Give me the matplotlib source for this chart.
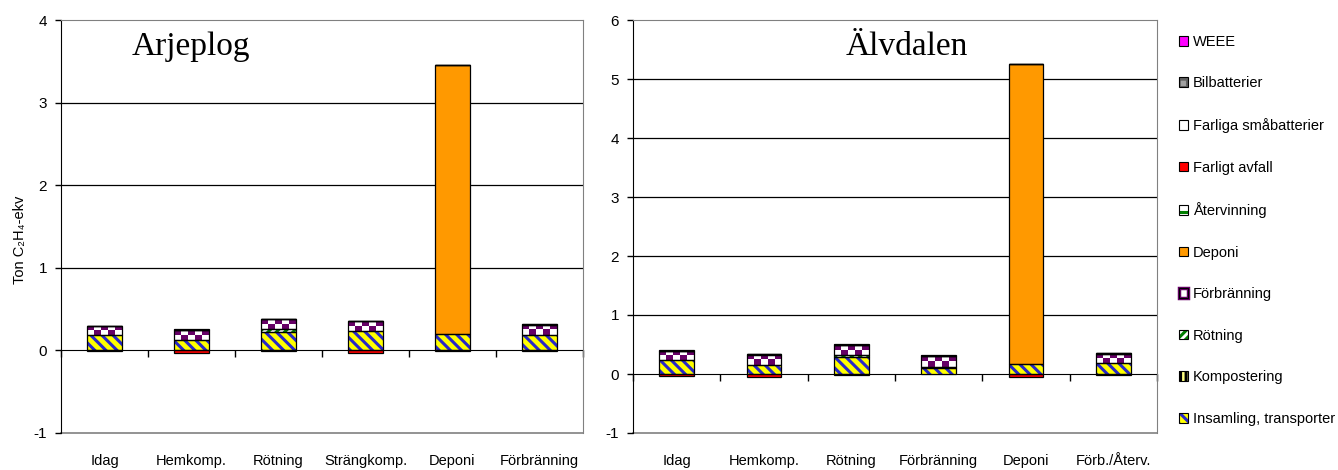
import numpy as np
import matplotlib.pyplot as plt
from matplotlib.patches import Patch
from matplotlib.colors import to_rgb
from matplotlib.legend_handler import HandlerTuple

plt.rcParams['font.family'] = ['Liberation Sans', 'DejaVu Sans']
plt.rcParams['hatch.linewidth'] = 2.2
plt.rcParams['axes.unicode_minus'] = False

# Serier i staplingsordning (nederst först)
SERIER = ['Insamling, transporter', 'Kompostering', 'Rötning', 'Förbränning',
          'Deponi', 'Återvinning', 'Farligt avfall', 'Farliga småbatterier',
          'Bilbatterier', 'WEEE']

# Arjeplog
arj_scenarier = ['Idag', 'Hemkomp.', 'Rötning', 'Strängkomp.', 'Deponi', 'Förbränning']
arj_insamling = [0.19, 0.13, 0.22, 0.235, 0.195, 0.185]
arj_kompost = [-0.006, 0.0, -0.006, 0.0, -0.006, -0.006]
arj_rotning = [0.0, 0.0, 0.04, 0.0, 0.0, 0.0]
arj_forbr = [0.10, 0.115, 0.115, 0.115, 0.0, 0.125]
arj_deponi = [0.0, 0.0, 0.0, 0.0, 3.255, 0.0]
arj_atervinn = [0.0, 0.0, 0.0, 0.0, 0.0, 0.0]
arj_farligt = [0.0, -0.03, 0.0, -0.03, 0.0, 0.0]
arj_smabatt = [0.003, 0.003, 0.003, 0.003, 0.003, 0.003]
arj_bilbatt = [0.002, 0.002, 0.002, 0.002, 0.002, 0.002]
arj_weee = [0.004, 0.004, 0.004, 0.004, 0.004, 0.004]

# Älvdalen
alv_scenarier = ['Idag', 'Hemkomp.', 'Rötning', 'Förbränning', 'Deponi', 'Förb./Återv.']
alv_insamling = [0.235, 0.16, 0.29, 0.10, 0.17, 0.18]
alv_kompost = [0.0, 0.0, 0.0, 0.0, 0.0, 0.0]
alv_rotning = [0.0, 0.0, 0.04, 0.015, 0.0, 0.0]
alv_forbr = [0.155, 0.17, 0.16, 0.19, 0.0, 0.16]
alv_deponi = [0.0, 0.0, 0.0, 0.0, 5.08, 0.0]
alv_atervinn = [0.0, 0.0, 0.0, 0.0, 0.0, 0.005]
alv_farligt = [-0.03, -0.05, -0.01, 0.0, -0.05, -0.01]
alv_smabatt = [0.003, 0.003, 0.003, 0.003, 0.003, 0.003]
alv_bilbatt = [0.002, 0.002, 0.002, 0.002, 0.002, 0.002]
alv_weee = [0.005, 0.005, 0.02, 0.005, 0.005, 0.005]

# fyllning, mönster, mönsterfärg
STIL = {
    'Insamling, transporter': ('#FFFF00', '\\\\\\', '#2828C8'),
    'Kompostering': ('#FFFF80', '|||', '#000000'),
    'Rötning': ('#FFFFFF', '////', '#008000'),
    'Förbränning': ('checker', None, None),
    'Deponi': ('#FF9900', None, None),
    'Återvinning': ('#FFFFFF', '--', '#008000'),
    'Farligt avfall': ('#FF0000', None, None),
    'Farliga småbatterier': ('#FFFFFF', None, None),
    'Bilbatterier': ('#A0A0A0', '++', '#606060'),
    'WEEE': ('#FF00FF', None, None),
}
LILA = '#660066'


def schack(ax, patch):
    x0, y0 = patch.get_x(), patch.get_y()
    w, h = patch.get_width(), patch.get_height()
    (px0, py0), (px1, py1) = ax.transData.transform([(x0, y0), (x0 + w, y0 + h)])
    ncol = max(1, round(abs(px1 - px0) / 7))
    nrad = max(2, round(abs(py1 - py0) / 5))
    rut = np.add.outer(np.arange(nrad), np.arange(ncol)) % 2
    bild = np.where(rut[..., None] == 0, np.array(to_rgb(LILA)), np.ones(3))
    im = ax.imshow(bild, extent=(x0, x0 + w, y0, y0 + h), origin='upper',
                   aspect='auto', interpolation='nearest', zorder=2)
    im.set_clip_path(patch)


def rita(ax, scenarier, serier, ymax, titel, titel_x):
    x = np.arange(len(scenarier))
    ax.set_xlim(-0.5, len(scenarier) - 0.5)
    ax.set_ylim(-1, ymax)

    for y in range(1, ymax):
        ax.axhline(y, color='black', lw=0.9, zorder=1)
    ax.axhline(-1, color='#808080', lw=1.2, clip_on=False, zorder=1)

    pos = np.zeros(len(x))
    neg = np.zeros(len(x))
    for namn, varden in zip(SERIER, serier):
        v = np.array(varden, dtype=float)
        bas = np.where(v >= 0, pos, neg)
        m = v != 0
        face, hatch, hcol = STIL[namn]
        if m.any():
            if face == 'checker':
                staplar = ax.bar(x[m], v[m], 0.4, bottom=bas[m], color='white',
                                 linewidth=0, zorder=2)
                for p in staplar:
                    schack(ax, p)
            else:
                ax.bar(x[m], v[m], 0.4, bottom=bas[m], color=face, hatch=hatch,
                       edgecolor=hcol if hcol else face, linewidth=0, zorder=2)
            ax.bar(x[m], v[m], 0.4, bottom=bas[m], fill=False,
                   edgecolor='black', linewidth=0.9, zorder=3)
        pos = np.where(v >= 0, pos + v, pos)
        neg = np.where(v < 0, neg + v, neg)

    ax.set_xlim(-0.5, len(scenarier) - 0.5)
    ax.set_ylim(-1, ymax)

    ax.spines['bottom'].set_position(('data', 0))
    ax.spines['bottom'].set_color('black')
    ax.spines['bottom'].set_zorder(1.5)
    ax.spines['left'].set_color('black')
    ax.spines['top'].set_color('#808080')
    ax.spines['right'].set_color('#808080')
    ax.set_xticks(np.arange(len(scenarier) + 1) - 0.5)
    ax.set_xticklabels([])
    ax.tick_params(axis='x', direction='out', length=5, width=1)
    ax.set_yticks(range(-1, ymax + 1))
    ax.tick_params(axis='y', direction='out', length=4, width=1, pad=6,
                   labelsize=11)
    for xi, s in zip(x, scenarier):
        ax.text(xi, -0.068, s, transform=ax.get_xaxis_transform(),
                ha='center', va='center', fontsize=10.5)
    ax.text(titel_x, 0.915, titel, transform=ax.transAxes, ha='left',
            va='baseline', fontsize=24, family='Liberation Serif')


fig = plt.figure(figsize=(13.38, 4.7), dpi=100)
ax1 = fig.add_axes([61 / 1338, 37 / 470, 522 / 1338, 413 / 470])
ax2 = fig.add_axes([633 / 1338, 37 / 470, 524 / 1338, 413 / 470])

rita(ax1, arj_scenarier,
     [arj_insamling, arj_kompost, arj_rotning, arj_forbr, arj_deponi,
      arj_atervinn, arj_farligt, arj_smabatt, arj_bilbatt, arj_weee],
     4, 'Arjeplog', 0.136)
rita(ax2, alv_scenarier,
     [alv_insamling, alv_kompost, alv_rotning, alv_forbr, alv_deponi,
      alv_atervinn, alv_farligt, alv_smabatt, alv_bilbatt, alv_weee],
     6, 'Älvdalen', 0.405)

fig.text(20 / 1338, 1 - 240 / 470, 'Ton C\u2082H\u2084-ekv', rotation=90,
         ha='center', va='center', fontsize=10.5)

# Förklaring, översta serien först
handtag = []
for namn in reversed(SERIER):
    face, hatch, hcol = STIL[namn]
    if face == 'checker':
        fyll = Patch(facecolor='white', edgecolor=LILA, linewidth=2.5)
    else:
        fyll = Patch(facecolor=face, hatch=hatch, edgecolor=hcol if hcol else face,
                     linewidth=0)
    ram = Patch(fill=False, edgecolor='black', linewidth=0.8)
    handtag.append((fyll, ram))

fig.legend(handtag, list(reversed(SERIER)), loc='upper left',
           bbox_to_anchor=(1173 / 1338, 1 - 29 / 470), frameon=False,
           fontsize=10.5, handlelength=0.65, handleheight=0.65, handletextpad=0.3,
           labelspacing=1.89, borderaxespad=0,
           handler_map={tuple: HandlerTuple(ndivide=1, pad=0)})

fig.savefig('out.png', dpi=100)
